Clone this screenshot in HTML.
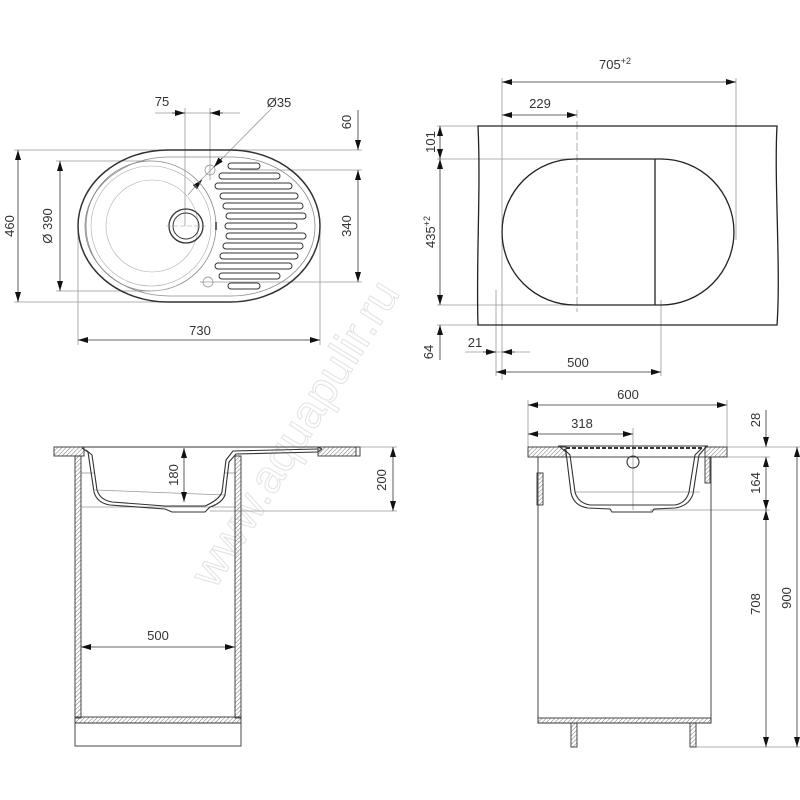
<!DOCTYPE html>
<html><head><meta charset="utf-8"><style>
html,body{margin:0;padding:0;background:#fff}
svg{display:block}
text{font-family:"Liberation Sans",sans-serif;font-size:13px;fill:#333}
</style></head><body>
<svg width="800" height="800" viewBox="0 0 800 800" xmlns="http://www.w3.org/2000/svg">
<defs>
<pattern id="h" width="3" height="3" patternUnits="userSpaceOnUse" patternTransform="rotate(45)">
<line x1="0" y1="0" x2="0" y2="3" stroke="#777" stroke-width="1"/>
</pattern>
<marker id="a" viewBox="0 0 10 6" refX="10" refY="3" markerWidth="10" markerHeight="6" orient="auto-start-reverse" markerUnits="userSpaceOnUse">
<path d="M0,0 L10,3 L0,6 z" fill="#111"/>
</marker>
</defs>

<!-- watermark -->
<text x="0" y="0" transform="translate(215,590) rotate(-58)" style="font-size:46px;fill:none;stroke:#e2e2e2;stroke-width:1">www.aquapulir.ru</text>

<g fill="none" stroke="#999" stroke-width="0.8">
<!-- TOP LEFT extension lines -->
<line x1="14" y1="150" x2="362" y2="150"/>
<line x1="56" y1="161" x2="150" y2="161"/>
<line x1="56" y1="291" x2="150" y2="291"/>
<line x1="14" y1="302" x2="200" y2="302"/>
<line x1="240" y1="170" x2="362" y2="170"/>
<line x1="200" y1="282" x2="362" y2="282"/>
<line x1="78" y1="230" x2="78" y2="345"/>
<line x1="320" y1="230" x2="320" y2="345"/>
<line x1="185" y1="108" x2="185" y2="226"/>
<line x1="210" y1="108" x2="210" y2="180"/>
<line x1="155" y1="113" x2="240" y2="113"/>
<line x1="272" y1="108" x2="198" y2="183"/>
<line x1="198" y1="183" x2="188" y2="195"/>
<!-- TOP RIGHT extension -->
<line x1="502" y1="78" x2="502" y2="380"/>
<line x1="736" y1="78" x2="736" y2="240"/>
<line x1="577" y1="110" x2="577" y2="312" stroke-dasharray="8,3"/>
<line x1="661" y1="300" x2="661" y2="376"/>
<line x1="496" y1="290" x2="496" y2="376"/>
<line x1="437" y1="126" x2="478" y2="126"/>
<line x1="437" y1="159" x2="580" y2="159"/>
<line x1="437" y1="305" x2="600" y2="305"/>
<line x1="437" y1="325" x2="478" y2="325"/>
<line x1="465" y1="352" x2="530" y2="352"/>
<!-- BOTTOM LEFT ext -->
<line x1="318" y1="447" x2="397" y2="447"/>
<line x1="210" y1="511" x2="397" y2="511"/>
<line x1="95" y1="490" x2="225" y2="495"/>
<line x1="81" y1="473" x2="95" y2="473"/><line x1="225" y1="473" x2="235" y2="473"/>
<line x1="81" y1="507" x2="235" y2="507"/>
<!-- BOTTOM RIGHT ext -->
<line x1="528" y1="400" x2="528" y2="447"/>
<line x1="727" y1="400" x2="727" y2="447"/>
<line x1="633" y1="428" x2="633" y2="510"/>
<line x1="727" y1="447" x2="802" y2="447"/>
<line x1="711" y1="457" x2="770" y2="457"/>
<line x1="650" y1="510" x2="770" y2="510"/>
<line x1="696" y1="747" x2="800" y2="747"/>
<line x1="575" y1="492" x2="700" y2="492"/>
</g>

<!-- dimension lines with arrows -->
<g stroke="#333" stroke-width="0.8" fill="none">
<line x1="18" y1="150" x2="18" y2="302" marker-start="url(#a)" marker-end="url(#a)"/>
<line x1="60" y1="161" x2="60" y2="291" marker-start="url(#a)" marker-end="url(#a)"/>
<line x1="78" y1="340" x2="320" y2="340" marker-start="url(#a)" marker-end="url(#a)"/>
<line x1="172" y1="113" x2="185" y2="113" marker-end="url(#a)"/>
<line x1="223" y1="113" x2="210" y2="113" marker-end="url(#a)"/>
<line x1="358" y1="110" x2="358" y2="150" marker-end="url(#a)"/>
<line x1="358" y1="170" x2="358" y2="282" marker-start="url(#a)" marker-end="url(#a)"/>
<line x1="222" y1="158" x2="214" y2="167" marker-end="url(#a)"/>
<line x1="195" y1="187" x2="202" y2="180" marker-end="url(#a)"/>

<line x1="502" y1="82" x2="736" y2="82" marker-start="url(#a)" marker-end="url(#a)"/>
<line x1="502" y1="115" x2="577" y2="115" marker-start="url(#a)" marker-end="url(#a)"/>
<line x1="440" y1="126" x2="440" y2="159" marker-start="url(#a)" marker-end="url(#a)"/>
<line x1="440" y1="159" x2="440" y2="305" marker-start="url(#a)" marker-end="url(#a)"/>
<line x1="440" y1="360" x2="440" y2="325" marker-end="url(#a)"/>
<line x1="483" y1="352" x2="496" y2="352" marker-end="url(#a)"/>
<line x1="515" y1="352" x2="502" y2="352" marker-end="url(#a)"/>
<line x1="496" y1="372" x2="661" y2="372" marker-start="url(#a)" marker-end="url(#a)"/>

<line x1="184" y1="448" x2="184" y2="502" marker-start="url(#a)" marker-end="url(#a)"/>
<line x1="393" y1="447" x2="393" y2="511" marker-start="url(#a)" marker-end="url(#a)"/>
<line x1="81" y1="647" x2="235" y2="647" marker-start="url(#a)" marker-end="url(#a)"/>

<line x1="528" y1="405" x2="727" y2="405" marker-start="url(#a)" marker-end="url(#a)"/>
<line x1="528" y1="434" x2="633" y2="434" marker-start="url(#a)" marker-end="url(#a)"/>
<line x1="766" y1="410" x2="766" y2="447" marker-end="url(#a)"/>
<line x1="766" y1="457" x2="766" y2="510" marker-start="url(#a)" marker-end="url(#a)"/>
<line x1="766" y1="510" x2="766" y2="747" marker-start="url(#a)" marker-end="url(#a)"/>
<line x1="797" y1="447" x2="797" y2="747" marker-start="url(#a)" marker-end="url(#a)"/>
</g>

<!-- TOP LEFT sink -->
<g fill="none" stroke="#333">
<rect x="78" y="150" width="242" height="152" rx="90" ry="76" stroke-width="1.5"/>
<rect x="85" y="157" width="230" height="139" rx="84" ry="69" stroke="#888" stroke-width="0.8"/>
<circle cx="151" cy="226" r="65" stroke="#888" stroke-width="0.8"/>
<circle cx="151" cy="226" r="60" stroke="#aaa" stroke-width="0.6"/>
<circle cx="152" cy="226" r="46" stroke="#aaa" stroke-width="0.6"/>
<circle cx="186" cy="226" r="17" stroke-width="1.3"/>
<circle cx="186" cy="226" r="13" stroke-width="1"/>
<line x1="166" y1="226" x2="206" y2="226" stroke="#999" stroke-width="0.6" stroke-dasharray="5,2"/>
<circle cx="210" cy="170" r="5" stroke="#888" stroke-width="0.7"/>
<circle cx="208" cy="282" r="5" stroke="#888" stroke-width="0.7"/>
<line x1="216" y1="222" x2="216" y2="230" stroke-width="1.5"/>
</g>
<g fill="none" stroke="#333" stroke-width="1" stroke-linecap="round">
<rect x="228" y="163" width="32" height="6" rx="3"/>
<rect x="219" y="173" width="61" height="6" rx="3"/>
<rect x="215" y="183" width="77" height="6" rx="3"/>
<rect x="220" y="193" width="78" height="6" rx="3"/>
<rect x="223" y="203" width="80" height="6" rx="3"/>
<rect x="226" y="213" width="80" height="6" rx="3"/>
<rect x="225" y="223" width="72" height="6" rx="3"/>
<rect x="226" y="233" width="80" height="6" rx="3"/>
<rect x="223" y="243" width="80" height="6" rx="3"/>
<rect x="220" y="253" width="78" height="6" rx="3"/>
<rect x="215" y="263" width="77" height="6" rx="3"/>
<rect x="219" y="273" width="61" height="6" rx="3"/>
<rect x="228" y="283" width="32" height="6" rx="3"/>
</g>

<!-- TOP RIGHT countertop -->
<g fill="none" stroke="#222" stroke-width="1.3">
<path d="M478,126 L777,126 C774,180 781,270 777,325 L478,325 C476,260 481,190 478,126 Z"/>
<path d="M575,159 L661,159 A73,73 0 0 1 661,305 L575,305 A73,73 0 0 1 575,159 Z"/>
<line x1="655" y1="159" x2="655" y2="305"/>
</g>

<!-- BOTTOM LEFT section -->
<g stroke="#333" stroke-width="0.9">
<rect x="54" y="447" width="30" height="9" fill="url(#h)"/>
<rect x="318" y="447" width="38" height="9" fill="url(#h)"/>
<rect x="356" y="447" width="4" height="9" fill="#fff"/>
<rect x="75" y="456" width="6" height="262" fill="url(#h)"/>
<rect x="235" y="456" width="6" height="262" fill="url(#h)"/>
<rect x="75" y="717" width="166" height="6" fill="url(#h)"/>
<rect x="75" y="723" width="166" height="23" fill="none"/>
</g>
<g fill="none" stroke="#333" stroke-width="1.1">
<path d="M79,447 L318,447 L322,449"/>
<path d="M82,448 L88,452 L94,492 Q97,503 110,505 L165,509 L172,512 L205,512 L210,507 Q222,503 225,495 L229,462 L236,454 L318,452 L322,449"/>
<path d="M86,450 L92,455 L97,490 Q100,500 112,502 L165,506 L205,506 Q219,500 222,492 L226,460 L233,451 L318,449"/>
</g>

<!-- BOTTOM RIGHT section -->
<g stroke="#333" stroke-width="0.9">
<rect x="528" y="447" width="38" height="10" fill="url(#h)"/>
<rect x="705" y="447" width="22" height="10" fill="url(#h)"/>
<rect x="538" y="457" width="173" height="266" fill="none"/>
<rect x="538" y="718" width="173" height="5" fill="url(#h)"/>
<rect x="537" y="473" width="6" height="32" fill="url(#h)"/>
<rect x="705" y="457" width="5" height="26" fill="url(#h)"/>
<rect x="571" y="723" width="6" height="24" fill="url(#h)"/>
<rect x="690" y="723" width="6" height="24" fill="url(#h)"/>
</g>
<g fill="none" stroke="#333" stroke-width="1.1">
<path d="M558,446 L708,446"/>
<line x1="566" y1="448" x2="702" y2="448" stroke-dasharray="4,2" stroke-width="2"/>
<path d="M560,447 L566,452 L571,493 Q574,506 588,508 L610,509 L612,512 L652,512 L654,509 L675,508 Q689,506 693,494 L699,455 L706,447"/>
<path d="M564,449 L570,455 L575,492 Q578,503 590,505 L675,505 Q686,503 689,492 L695,455 L702,448"/>
<circle cx="633" cy="462" r="6"/>
</g>

<!-- texts -->
<text x="0" y="0" transform="translate(14,226) rotate(-90)" text-anchor="middle">460</text>
<text x="0" y="0" transform="translate(52,226) rotate(-90)" text-anchor="middle">Ø 390</text>
<text x="200" y="335" text-anchor="middle">730</text>
<text x="162" y="106" text-anchor="middle">75</text>
<text x="279" y="107" text-anchor="middle">Ø35</text>
<text x="0" y="0" transform="translate(351,122) rotate(-90)" text-anchor="middle">60</text>
<text x="0" y="0" transform="translate(351,226) rotate(-90)" text-anchor="middle">340</text>

<text x="615" y="69" text-anchor="middle">705<tspan dy="-5" style="font-size:9px">+2</tspan></text>
<text x="540" y="108" text-anchor="middle">229</text>
<text x="0" y="0" transform="translate(435,142) rotate(-90)" text-anchor="middle">101</text>
<text x="0" y="0" transform="translate(435,232) rotate(-90)" text-anchor="middle">435<tspan dy="-5" style="font-size:9px">+2</tspan></text>
<text x="0" y="0" transform="translate(433,352) rotate(-90)" text-anchor="middle">64</text>
<text x="475" y="347" text-anchor="middle">21</text>
<text x="578" y="367" text-anchor="middle">500</text>

<text x="0" y="0" transform="translate(178,475) rotate(-90)" text-anchor="middle">180</text>
<text x="0" y="0" transform="translate(386,480) rotate(-90)" text-anchor="middle">200</text>
<text x="158" y="640" text-anchor="middle">500</text>

<text x="628" y="399" text-anchor="middle">600</text>
<text x="582" y="428" text-anchor="middle">318</text>
<text x="0" y="0" transform="translate(760,420) rotate(-90)" text-anchor="middle">28</text>
<text x="0" y="0" transform="translate(760,483) rotate(-90)" text-anchor="middle">164</text>
<text x="0" y="0" transform="translate(760,604) rotate(-90)" text-anchor="middle">708</text>
<text x="0" y="0" transform="translate(791,598) rotate(-90)" text-anchor="middle">900</text>
</svg>
</body></html>
